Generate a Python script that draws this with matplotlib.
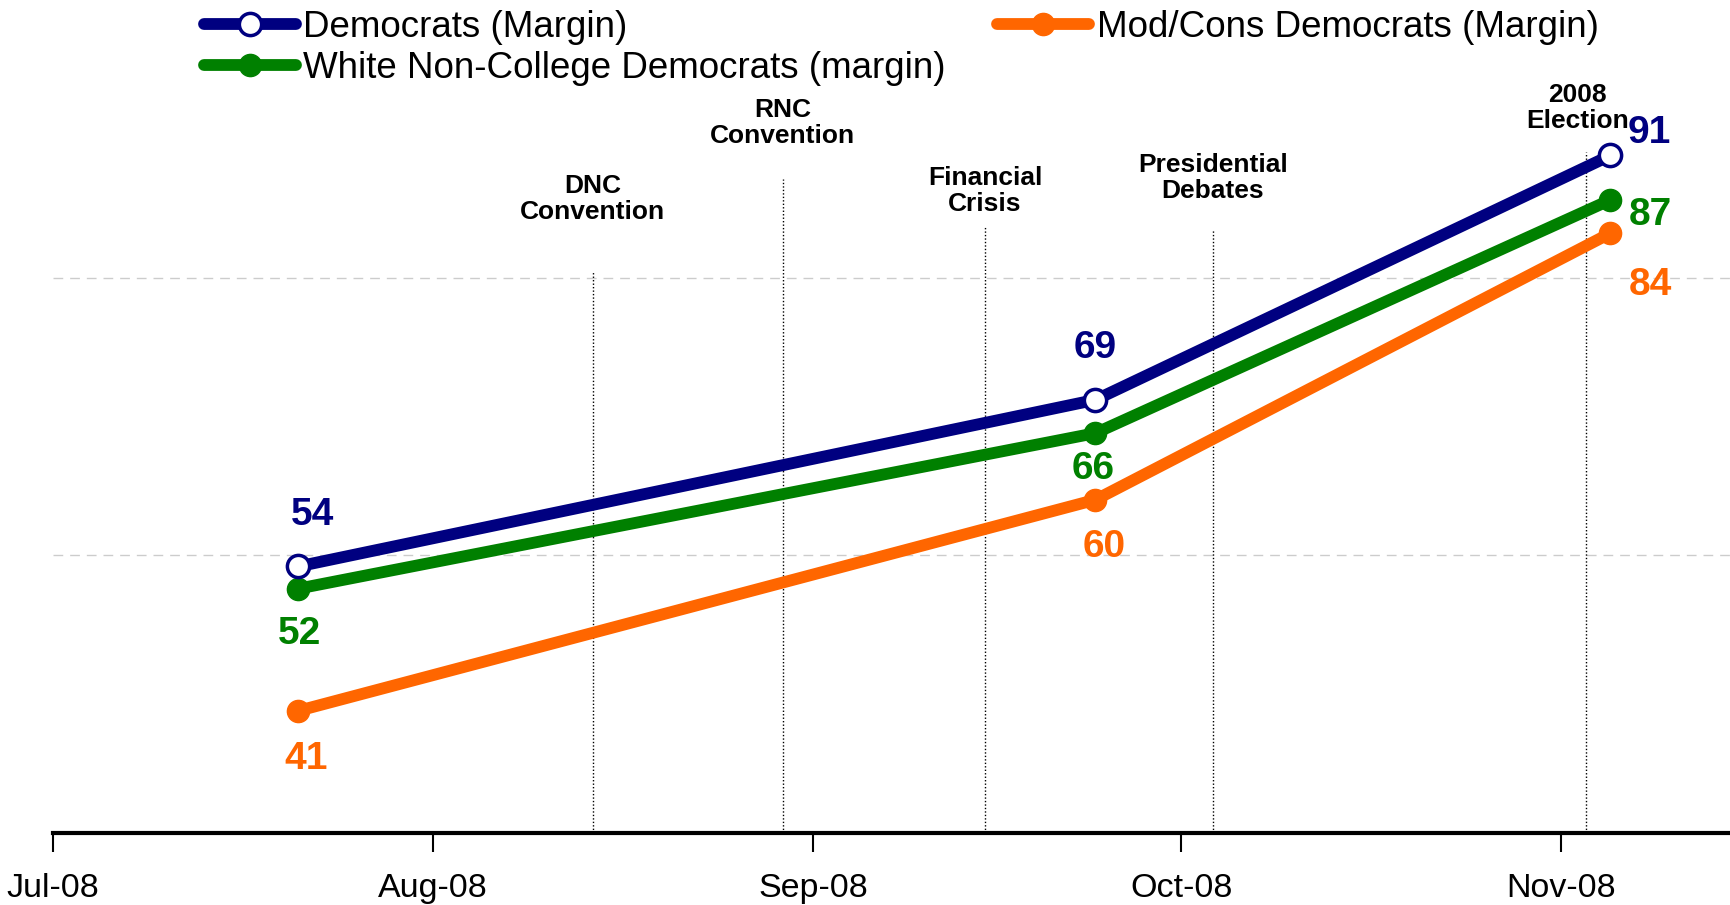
"""
Margem democrata ao longo da campanha de 2008 (jul-nov).
Salva out.png (1731x905).
"""

import matplotlib
matplotlib.use("Agg")
import matplotlib.pyplot as plt
import matplotlib.dates as mdates
import pandas as pd

# ─────────────────────────────────────────────────────────────────────────────
# DADOS
# ─────────────────────────────────────────────────────────────────────────────
datas = pd.to_datetime(["2008-07-21", "2008-09-24", "2008-11-05"])
democratas = [54, 69, 91]
brancos_sem_faculdade = [52, 66, 87]
mod_cons = [41, 60, 84]

series = ["Democrats (Margin)", "White Non-College Democrats (margin)",
          "Mod/Cons Democrats (Margin)"]

eventos = ["DNC\nConvention", "RNC\nConvention", "Financial\nCrisis",
           "Presidential\nDebates", "2008\nElection"]
datas_eventos = pd.to_datetime(["2008-08-14 00:00", "2008-08-29 12:00",
                                "2008-09-15 00:00", "2008-10-03 14:00",
                                "2008-11-03 00:00"])
topo_eventos = [80.5, 88.9, 84.6, 84.4, 91.3]      # onde a linha pontilhada começa
texto_eventos_y = [87.1, 93.9, 87.8, 89.0, 95.3]  # centro do rótulo

ticks_x = pd.to_datetime(["2008-07-01", "2008-08-01", "2008-09-01",
                          "2008-10-01", "2008-11-01"])

# ─────────────────────────────────────────────────────────────────────────────
# ESTILO
# ─────────────────────────────────────────────────────────────────────────────
AZUL = "#000080"
VERDE = "#008000"
LARANJA = "#FF6600"
FONTE = ["Liberation Sans", "DejaVu Sans"]

fig = plt.figure(figsize=(17.31, 9.05), dpi=100)
ax = fig.add_axes([0.0306, 1 - 833 / 905, 1 - 0.0306, 833 / 905])

lw = 8.5
ms = 16
l1, = ax.plot(datas, democratas, color=AZUL, lw=lw, marker="o", ms=ms,
              mfc="white", mec=AZUL, mew=2.5, solid_capstyle="round", zorder=5)
l2, = ax.plot(datas, brancos_sem_faculdade, color=VERDE, lw=lw, marker="o",
              ms=ms, mfc=VERDE, mec=VERDE, solid_capstyle="round", zorder=4)
l3, = ax.plot(datas, mod_cons, color=LARANJA, lw=lw, marker="o", ms=ms,
              mfc=LARANJA, mec=LARANJA, solid_capstyle="round", zorder=3)

# rótulos de valor (deslocamento em pontos)
desloc_dem = [(10, 37), (0, 37), (28, 16)]
desloc_bnc = [(1, -33), (-1.5, -26), (28.5, -11)]
desloc_mod = [(5.5, -35), (6.5, -34), (28.5, -37)]
for vals, cor, desl in [(democratas, AZUL, desloc_dem),
                        (brancos_sem_faculdade, VERDE, desloc_bnc),
                        (mod_cons, LARANJA, desloc_mod)]:
    for d, v, off in zip(datas, vals, desl):
        ax.annotate(f"{v}", xy=(d, v), xytext=off, textcoords="offset points",
                    ha="center", va="center", fontsize=28, fontweight="bold",
                    color=cor, family=FONTE, zorder=6)

# eventos: linhas pontilhadas + rótulos
for txt, d, topo, ty in zip(eventos, datas_eventos, topo_eventos, texto_eventos_y):
    ax.plot([d, d], [30, topo], color="black", lw=1, ls=(0, (1, 1.5)), zorder=2)
    dx = -6 if txt.startswith("2008") else 0
    ax.annotate(txt, xy=(d, ty), xytext=(dx, 0), textcoords="offset points",
                ha="center", va="center", fontsize=19, fontweight="bold",
                family=FONTE, linespacing=1.1)

# eixos
ax.set_xlim(pd.Timestamp("2008-07-01"), pd.Timestamp("2008-11-14 20:00"))
ax.set_ylim(30, 105)
ax.set_xticks(ticks_x)
ax.xaxis.set_major_formatter(mdates.DateFormatter("%b-%y"))
ax.set_yticks([55, 80])
ax.yaxis.grid(True, color="#cccccc", ls=(0, (7, 5)), lw=1)
ax.set_axisbelow(True)
ax.tick_params(axis="y", left=False, labelleft=False)
ax.tick_params(axis="x", direction="out", length=14, width=1.5, pad=15,
               labelsize=24.5)
for lab in ax.get_xticklabels():
    lab.set_family(FONTE)
for s in ["top", "right", "left"]:
    ax.spines[s].set_visible(False)
ax.spines["bottom"].set_linewidth(3)

# legenda
leg = ax.legend([l1, l2, l3], series, ncol=2, loc="upper left",
                bbox_to_anchor=(204 / 1731, 1 - 10 / 905),
                bbox_transform=fig.transFigure, frameon=False,
                prop={"family": FONTE, "size": 26.5}, handlelength=2.5,
                handletextpad=0.2, labelspacing=0.15, columnspacing=1.4,
                borderpad=0, borderaxespad=0, numpoints=1)

fig.savefig("out.png", dpi=100)
plt.close(fig)
print("[OK] out.png")
